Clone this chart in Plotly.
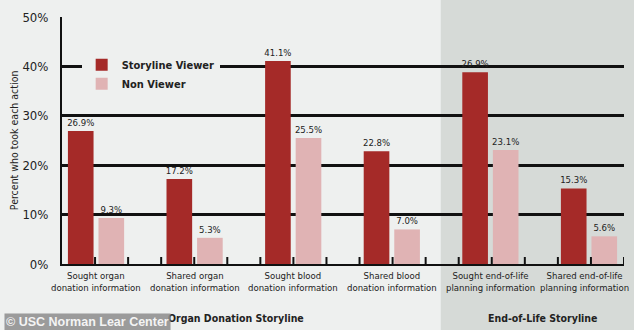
import plotly.graph_objects as go

categories = ["Sought organ<br>donation information", "Shared organ<br>donation information",
              "Sought blood<br>donation information", "Shared blood<br>donation information",
              "Sought end-of-life<br>planning information", "Shared end-of-life<br>planning information"]
viewer_values = [26.9, 17.2, 41.1, 22.8, 38.8, 15.3]
viewer_labels = ["26.9%", "17.2%", "41.1%", "22.8%", "26.9%", "15.3%"]
non_viewer_values = [9.3, 5.3, 25.5, 7.0, 23.1, 5.6]
non_viewer_labels = ["9.3%", "5.3%", "25.5%", "7.0%", "23.1%", "5.6%"]
y_ticks = [0, 10, 20, 30, 40, 50]
y_ticktext = ["0%", "10%", "20%", "30%", "40%", "50%"]

FONT = "DejaVu Sans Condensed, Liberation Sans Narrow, Arial Narrow, sans-serif"
DARK = "#a52a28"
LIGHT = "#e0b3b4"
xpos = list(range(len(categories)))
X_RANGE = [-0.345, 5.355]
N_TICK_DIV = 17

fig = go.Figure()
fig.add_trace(go.Bar(x=xpos, y=viewer_values, name="<b>Storyline Viewer</b>", marker_color=DARK,
                     marker_line_width=0, width=0.26, offset=-0.285,
                     text=viewer_labels, textposition="outside", cliponaxis=False,
                     constraintext="none",
                     textfont=dict(family=FONT, size=9.5, color="#222")))
fig.add_trace(go.Bar(x=xpos, y=non_viewer_values, name="<b>Non Viewer</b>", marker_color=LIGHT,
                     marker_line_width=0, width=0.26, offset=0.025,
                     text=non_viewer_labels, textposition="outside", cliponaxis=False,
                     constraintext="none",
                     textfont=dict(family=FONT, size=9.5, color="#222")))

step = (X_RANGE[1] - X_RANGE[0]) / N_TICK_DIV
tick_x = [X_RANGE[0] + k * step for k in range(1, N_TICK_DIV + 1)]

annotations = []
for i, cat in enumerate(categories):
    annotations.append(dict(text=cat, xref="x", yref="paper", x=i, y=0, yanchor="top",
                            xanchor="center", yshift=-4, xshift=(-5 if i == len(categories) - 1 else 0),
                            showarrow=False,
                            font=dict(family=FONT, size=9.5, color="#222")))
annotations += [
    dict(text="Percent who took each action", xref="paper", yref="paper", textangle=-90,
         x=-0.086, y=0.5, xanchor="center", yanchor="middle", showarrow=False,
         font=dict(family=FONT, size=10.5, color="#222")),
    dict(text="<b>Organ Donation Storyline</b>", xref="paper", yref="paper",
         x=0.31, y=-0.22, xanchor="center", yanchor="middle", showarrow=False,
         font=dict(family=FONT, size=10.5, color="#222")),
    dict(text="<b>End-of-Life Storyline</b>", xref="paper", yref="paper",
         x=0.856, y=-0.22, xanchor="center", yanchor="middle", showarrow=False,
         font=dict(family=FONT, size=10.5, color="#222")),
    dict(text="<b>© USC Norman Lear Center</b>", xref="paper", yref="paper",
         x=-0.103, y=-0.235, xanchor="left", yanchor="middle", showarrow=False,
         bgcolor="rgba(140,140,140,0.85)", borderpad=1,
         font=dict(family="Liberation Sans, Arial, sans-serif", size=12.5, color="#f4f4f4")),
]

shapes = [dict(type="rect", xref="paper", yref="paper", x0=0.674, x1=1.05, y0=-0.3, y1=1.1,
               fillcolor="#d6dad7", line_width=0, layer="below")]
for xv in tick_x:
    shapes.append(dict(type="line", xref="x", yref="y", x0=xv, x1=xv,
                       ysizemode="pixel", yanchor=0, y0=0, y1=7,
                       line=dict(color="#111", width=2), layer="above"))

fig.update_layout(
    width=634, height=330,
    margin=dict(l=62, r=10, t=17, b=66),
    paper_bgcolor="#eef0ef", plot_bgcolor="rgba(0,0,0,0)",
    barmode="overlay",
    font=dict(family=FONT, color="#222"),
    showlegend=True,
    legend=dict(x=0.035, y=0.865, xanchor="left", yanchor="top", bgcolor="#eef0ef",
                font=dict(family=FONT, size=11, color="#222"), traceorder="normal",
                itemwidth=30, tracegroupgap=0, borderwidth=0),
    xaxis=dict(range=X_RANGE, showticklabels=False, automargin=False,
               showgrid=False, zeroline=False, showline=True, linecolor="#111", linewidth=2,
               ticks=""),
    yaxis=dict(range=[0, 50], tickvals=y_ticks, ticktext=y_ticktext, automargin=False,
               showgrid=True, gridcolor="#111", gridwidth=2.5, zeroline=False,
               showline=True, linecolor="#111", linewidth=2, ticks="",
               ticklabelstandoff=9,
               tickfont=dict(family=FONT, size=13, color="#222")),
    shapes=shapes,
    annotations=annotations,
)

fig.write_html("out.html")
